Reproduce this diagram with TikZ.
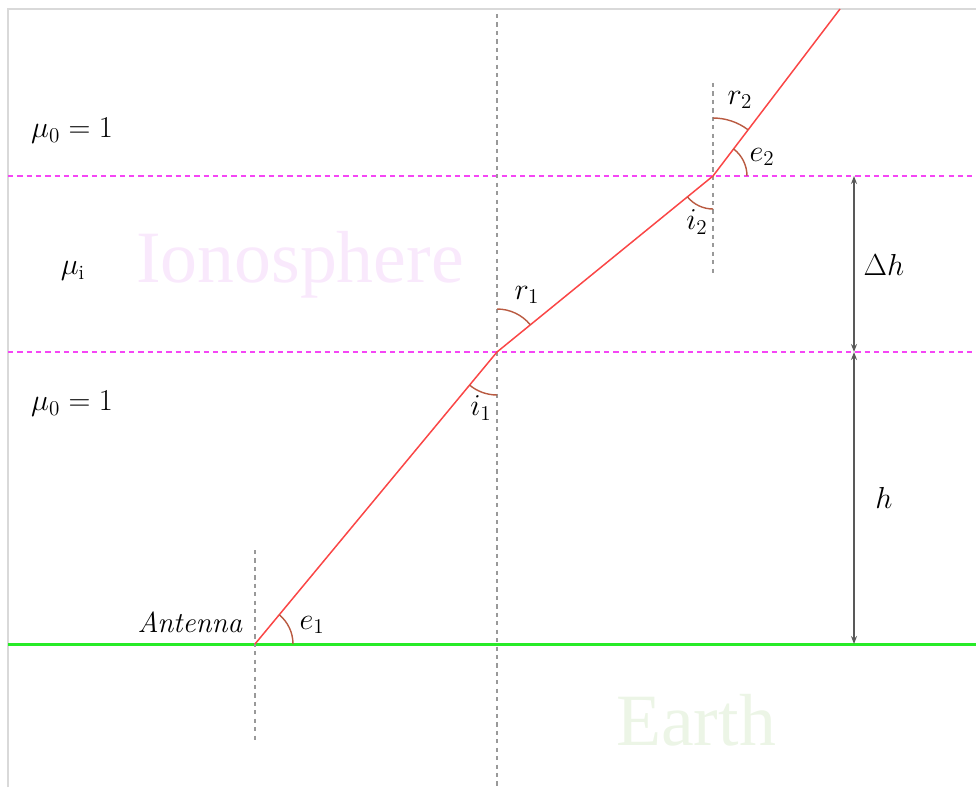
\documentclass[tikz,border=0pt]{standalone}
\usepackage{amsmath,amssymb}
\usepackage{fontspec}
\usepackage{tikz}
\usetikzlibrary{arrows.meta,angles,positioning}
\newfontfamily\bigserif{Liberation Serif}
\definecolor{raycol}{RGB}{250,70,70}
\definecolor{anglecol}{RGB}{185,90,65}
\definecolor{layercol}{RGB}{245,70,245}
\definecolor{groundcol}{RGB}{40,235,40}
\definecolor{ionocol}{RGB}{249,233,252}
\definecolor{earthcol}{RGB}{236,245,230}

\begin{document}
\begin{tikzpicture}[x=0.02cm, y=-0.02cm,
    every node/.style={font=\fontsize{16.5}{20}\selectfont},
    layer/.style={layercol, line width=0.8pt, dash pattern=on 3pt off 2.3pt},
    normal/.style={black!40, line width=0.8pt, dash pattern=on 2.4pt off 2.4pt},
    ray/.style={raycol, line width=0.85pt},
    ang/.style={draw=anglecol, line width=0.8pt},
    dim/.style={{Stealth[length=1.6mm]}-{Stealth[length=1.6mm]}, black!65, line width=0.7pt},
    bigword/.style={font=\bigserif\fontsize{42}{48}\selectfont}]
\useasboundingbox (0,0) rectangle (976,787);

% ==== Frame (top and left edges) ====
\draw[black!15, line width=0.9pt] (8,787) -- (8,9) -- (976,9);

% ==== Background words ====
\node[bigword, text=ionocol] (iono)  at (300,265) {Ionosphere};
\node[bigword, text=earthcol] (earth) at (696,720) {Earth};

% ==== Boundaries ====
\coordinate (m1L) at (8,352);   \coordinate (m1R) at (976,352);
\coordinate (m2L) at (8,176);   \coordinate (m2R) at (976,176);
\coordinate (gL)  at (8,644);   \coordinate (gR)  at (976,644);
\draw[layer] (m1L) -- (m1R);
\draw[layer] (m2L) -- (m2R);
\draw[groundcol, line width=1.7pt] (gL) -- (gR);

% ==== Normals ====
\coordinate (v0t) at (255,550); \coordinate (v0b) at (255,742);
\coordinate (v1t) at (497,14);  \coordinate (v1b) at (497,787);
\coordinate (v2t) at (713,83);  \coordinate (v2b) at (713,273);
\draw[normal] (v0t) -- (v0b);
\draw[normal] (v1t) -- (v1b);
\draw[normal] (v2t) -- (v2b);

% ==== Ray path ====
\coordinate (ant) at (255,644);
\coordinate (p1)  at (497,352);
\coordinate (p2)  at (713,176);
\coordinate (top) at (840,9);
\draw[ray] (ant) -- (p1) -- (p2) -- (top);

% ==== Angles ====
\pic[ang, angle radius=0.76cm] {angle = gR--ant--p1};
\pic[ang, angle radius=0.86cm] {angle = ant--p1--v1b};
\pic[ang, angle radius=0.86cm] {angle = p2--p1--v1t};
\pic[ang, angle radius=0.66cm] {angle = p1--p2--v2b};
\pic[ang, angle radius=1.16cm] {angle = top--p2--v2t};
\pic[ang, angle radius=0.68cm] {angle = m2R--p2--top};

% ==== Labels ====
\node (mu0top) at (72,131) {$\mu_0 = 1$};
\node (mui)    at (73,271) {$\mu_{\mathrm{i}}$};
\node (mu0bot) at (72,404) {$\mu_0 = 1$};
\node (antlbl) at (190,622) {\textit{Antenna}};
\node (e1) at (312,625) {$e_1$};
\node (i1) at (481,408) {$i_1$};
\node (r1) at (527,295) {$r_1$};
\node (i2) at (697,222) {$i_2$};
\node (r2) at (740,100) {$r_2$};
\node (e2) at (762,157) {$e_2$};

% ==== Heights ====
\coordinate (hTop) at (854,176);
\coordinate (hMid) at (854,352);
\coordinate (hBot) at (854,644);
\draw[dim] (hTop) -- (hMid);
\draw[dim] (hMid) -- (hBot);
\node (dh) at (884,265) {$\Delta h$};
\node (hh) at (884,498) {$h$};
\end{tikzpicture}
\end{document}
